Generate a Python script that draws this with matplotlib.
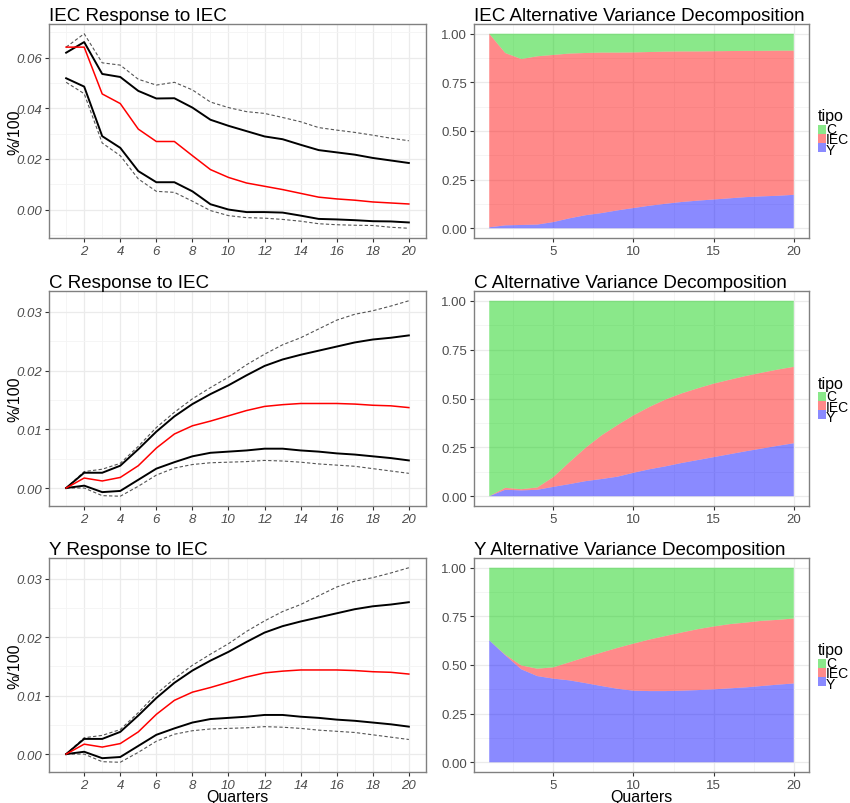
#!/usr/bin/env python3
"""IRF to an IEC shock and alternative variance decomposition, 3x2 grid."""
import matplotlib
matplotlib.use("Agg")
import matplotlib.pyplot as plt
from matplotlib.patches import Rectangle
from matplotlib.ticker import FixedLocator, FormatStrFormatter
import numpy as np

plt.rcParams["font.family"] = ["Liberation Sans", "DejaVu Sans"]

W, H = 850, 804
QUARTERS = np.arange(1, 21)

# --- impulse responses (point estimate, inner band, outer dashed band) ---
iec_mid = [0.0642, 0.0642, 0.0457, 0.0419, 0.0318, 0.0269, 0.0269, 0.0213, 0.0158, 0.0127,
           0.0105, 0.0092, 0.0079, 0.0064, 0.0049, 0.0042, 0.0037, 0.0030, 0.0026, 0.0022]
iec_hi = [0.0620, 0.0662, 0.0536, 0.0524, 0.0469, 0.0439, 0.0440, 0.0403, 0.0355, 0.0331,
          0.0310, 0.0289, 0.0278, 0.0256, 0.0235, 0.0226, 0.0217, 0.0204, 0.0194, 0.0184]
iec_lo = [0.0519, 0.0486, 0.0290, 0.0244, 0.0152, 0.0108, 0.0108, 0.0072, 0.0021, 0.0000,
          -0.0010, -0.0010, -0.0012, -0.0024, -0.0037, -0.0039, -0.0042, -0.0046, -0.0047, -0.0051]
iec_hi2 = [0.0642, 0.0695, 0.0580, 0.0571, 0.0515, 0.0492, 0.0503, 0.0473, 0.0425, 0.0403,
           0.0387, 0.0380, 0.0364, 0.0347, 0.0324, 0.0314, 0.0305, 0.0294, 0.0282, 0.0272]
iec_lo2 = [0.0503, 0.0458, 0.0263, 0.0213, 0.0121, 0.0072, 0.0068, 0.0033, -0.0004, -0.0024,
           -0.0032, -0.0034, -0.0039, -0.0046, -0.0056, -0.0060, -0.0062, -0.0063, -0.0070, -0.0074]

c_mid = [0.0, 0.0017, 0.0012, 0.0018, 0.0038, 0.0068, 0.0092, 0.0106, 0.0114, 0.0123,
         0.0132, 0.0139, 0.0142, 0.0144, 0.0144, 0.0144, 0.0143, 0.0141, 0.0140, 0.0137]
c_hi = [0.0, 0.0026, 0.0026, 0.0038, 0.0066, 0.0096, 0.0122, 0.0143, 0.0160, 0.0175,
        0.0192, 0.0208, 0.0219, 0.0227, 0.0234, 0.0241, 0.0248, 0.0253, 0.0256, 0.0260]
c_lo = [0.0, 0.0004, -0.0007, -0.0005, 0.0014, 0.0033, 0.0044, 0.0054, 0.0060, 0.0062,
        0.0064, 0.0067, 0.0067, 0.0064, 0.0062, 0.0059, 0.0057, 0.0054, 0.0051, 0.0047]
c_hi2 = [0.0, 0.0028, 0.0032, 0.0042, 0.0071, 0.0103, 0.0129, 0.0152, 0.0171, 0.0189,
         0.0210, 0.0228, 0.0244, 0.0256, 0.0271, 0.0286, 0.0296, 0.0302, 0.0310, 0.0319]
c_lo2 = [0.0, 0.0, -0.0013, -0.0014, 0.0003, 0.0022, 0.0034, 0.0040, 0.0043, 0.0044,
         0.0045, 0.0047, 0.0046, 0.0044, 0.0041, 0.0039, 0.0037, 0.0033, 0.0029, 0.0025]

# Y response reads the same as the C response in the source figure
y_mid, y_hi, y_lo, y_hi2, y_lo2 = c_mid, c_hi, c_lo, c_hi2, c_lo2

# --- variance decomposition shares (Y, IEC, C stacked from the bottom) ---
iec_dec_y = [0.005, 0.015, 0.017, 0.019, 0.032, 0.051, 0.067, 0.078, 0.092, 0.104,
             0.116, 0.126, 0.135, 0.142, 0.148, 0.154, 0.160, 0.164, 0.167, 0.172]
iec_dec_top = [1.0, 0.901, 0.870, 0.884, 0.891, 0.898, 0.901, 0.903, 0.903, 0.904,
               0.906, 0.908, 0.909, 0.909, 0.910, 0.911, 0.912, 0.912, 0.913, 0.913]
c_dec_y = [0.0, 0.033, 0.030, 0.033, 0.048, 0.062, 0.077, 0.088, 0.100, 0.120,
           0.138, 0.153, 0.170, 0.185, 0.200, 0.215, 0.230, 0.244, 0.258, 0.271]
c_dec_top = [0.0, 0.043, 0.036, 0.045, 0.098, 0.174, 0.247, 0.311, 0.364, 0.414,
             0.457, 0.495, 0.526, 0.552, 0.576, 0.596, 0.615, 0.632, 0.648, 0.662]
y_dec_y = [0.627, 0.550, 0.478, 0.443, 0.430, 0.421, 0.407, 0.392, 0.378, 0.368,
           0.366, 0.366, 0.368, 0.371, 0.375, 0.380, 0.385, 0.392, 0.399, 0.405]
y_dec_top = [0.627, 0.553, 0.498, 0.481, 0.488, 0.514, 0.540, 0.564, 0.588, 0.610,
             0.631, 0.649, 0.667, 0.684, 0.698, 0.710, 0.718, 0.727, 0.732, 0.739]

TIPO = ["C", "IEC", "Y"]
FILL = {"C": "#00cd00", "IEC": "#ff0000", "Y": "#0000ff"}
ALPHA = 0.46

GRID_MAJ = "#ebebeb"
GRID_MIN = "#f4f4f4"
TICK_TXT = "#4d4d4d"


def base_axes(rect):
    ax = fig.add_axes(rect)
    ax.set_facecolor("white")
    for s in ax.spines.values():
        s.set_color("#808080")
        s.set_linewidth(1.0)
    ax.tick_params(length=3, width=0.8, color="#333333", labelcolor=TICK_TXT,
                   labelsize=9.5, pad=2)
    ax.set_axisbelow(True)
    ax.grid(True, which="major", color=GRID_MAJ, lw=0.9)
    ax.grid(True, which="minor", color=GRID_MIN, lw=0.6)
    ax.tick_params(which="minor", length=0)
    ax.set_xlim(0.05, 20.95)
    return ax


def px_rect(x0, y0, x1, y1):
    return [x0 / W, 1 - y1 / H, (x1 - x0) / W, (y1 - y0) / H]


def response_panel(rect, title, mid, hi, lo, hi2, lo2, yticks, yminor):
    ax = base_axes(rect)
    ax.plot(QUARTERS, hi2, color="#555555", lw=0.8, ls=(0, (3, 2)))
    ax.plot(QUARTERS, lo2, color="#555555", lw=0.8, ls=(0, (3, 2)))
    ax.plot(QUARTERS, hi, color="black", lw=1.4)
    ax.plot(QUARTERS, lo, color="black", lw=1.4)
    ax.plot(QUARTERS, mid, color="red", lw=1.1)
    allv = np.concatenate([mid, hi, lo, hi2, lo2])
    pad = 0.05 * (allv.max() - allv.min())
    ax.set_ylim(allv.min() - pad, allv.max() + pad)
    ax.xaxis.set_major_locator(FixedLocator(np.arange(2, 21, 2)))
    ax.xaxis.set_minor_locator(FixedLocator(np.arange(1, 21, 2)))
    ax.yaxis.set_major_locator(FixedLocator(yticks))
    ax.yaxis.set_minor_locator(FixedLocator(yminor))
    ax.yaxis.set_major_formatter(FormatStrFormatter("%.2f"))
    for lab in ax.get_xticklabels() + ax.get_yticklabels():
        lab.set_fontstyle("italic")
    ax.set_ylabel("%/100", fontsize=11.5)
    ax.yaxis.set_label_coords(-0.07, 0.5)
    ax.set_title(title, loc="left", fontsize=13.5, pad=3)
    return ax


def decomp_panel(rect, title, ylayer, top):
    ax = base_axes(rect)
    ylayer = np.array(ylayer)
    top = np.array(top)
    iec = top - ylayer
    c = 1 - top
    ax.stackplot(QUARTERS, ylayer, iec, c,
                 colors=[FILL["Y"], FILL["IEC"], FILL["C"]], alpha=ALPHA, lw=0)
    ax.set_ylim(-0.05, 1.05)
    ax.xaxis.set_major_locator(FixedLocator([5, 10, 15, 20]))
    ax.xaxis.set_minor_locator(FixedLocator([2.5, 7.5, 12.5, 17.5]))
    ax.yaxis.set_major_locator(FixedLocator([0, 0.25, 0.5, 0.75, 1.0]))
    ax.yaxis.set_minor_locator(FixedLocator([0.125, 0.375, 0.625, 0.875]))
    ax.yaxis.set_major_formatter(FormatStrFormatter("%.2f"))
    ax.set_title(title, loc="left", fontsize=13.5, pad=3)
    return ax


def legend_at(cy):
    fig.text(818 / W, 1 - (cy - 15) / H, "tipo", fontsize=11.5, va="center", ha="left")
    for i, name in enumerate(TIPO):
        ky = cy - 2 + 9 * i
        fig.add_artist(Rectangle((818 / W, 1 - (ky + 4.5) / H), 8 / W, 9 / H,
                                 transform=fig.transFigure, facecolor=FILL[name],
                                 alpha=ALPHA, lw=0))
        fig.text(826 / W, 1 - (cy - 2 + 10.5 * i) / H, name, fontsize=10,
                 va="center", ha="left")


def quarters_label(ax):
    ax.set_xlabel("Quarters", fontsize=11.5, va="top")
    ax.xaxis.set_label_coords(0.5, -0.078)


fig = plt.figure(figsize=(W / 100, H / 100), dpi=100)

rows = [(25, 239), (292, 507), (559, 773)]

response_panel(px_rect(49, rows[0][0], 426, rows[0][1]),
               "IEC Response to IEC", iec_mid, iec_hi, iec_lo, iec_hi2, iec_lo2,
               [0.0, 0.02, 0.04, 0.06], [-0.01, 0.01, 0.03, 0.05, 0.07])
response_panel(px_rect(49, rows[1][0], 426, rows[1][1]),
               "C Response to IEC", c_mid, c_hi, c_lo, c_hi2, c_lo2,
               [0.0, 0.01, 0.02, 0.03], [0.005, 0.015, 0.025])
ax_y = response_panel(px_rect(49, rows[2][0], 426, rows[2][1]),
                      "Y Response to IEC", y_mid, y_hi, y_lo, y_hi2, y_lo2,
                      [0.0, 0.01, 0.02, 0.03], [0.005, 0.015, 0.025])
quarters_label(ax_y)

decomp_panel(px_rect(474, rows[0][0], 809, rows[0][1]),
             "IEC Alternative Variance Decomposition", iec_dec_y, iec_dec_top)
decomp_panel(px_rect(474, rows[1][0], 809, rows[1][1]),
             "C Alternative Variance Decomposition", c_dec_y, c_dec_top)
ax_d = decomp_panel(px_rect(474, rows[2][0], 809, rows[2][1]),
                    "Y Alternative Variance Decomposition", y_dec_y, y_dec_top)
quarters_label(ax_d)

for top, bot in rows:
    legend_at((top + bot) / 2)

fig.savefig("out.png", dpi=100)
